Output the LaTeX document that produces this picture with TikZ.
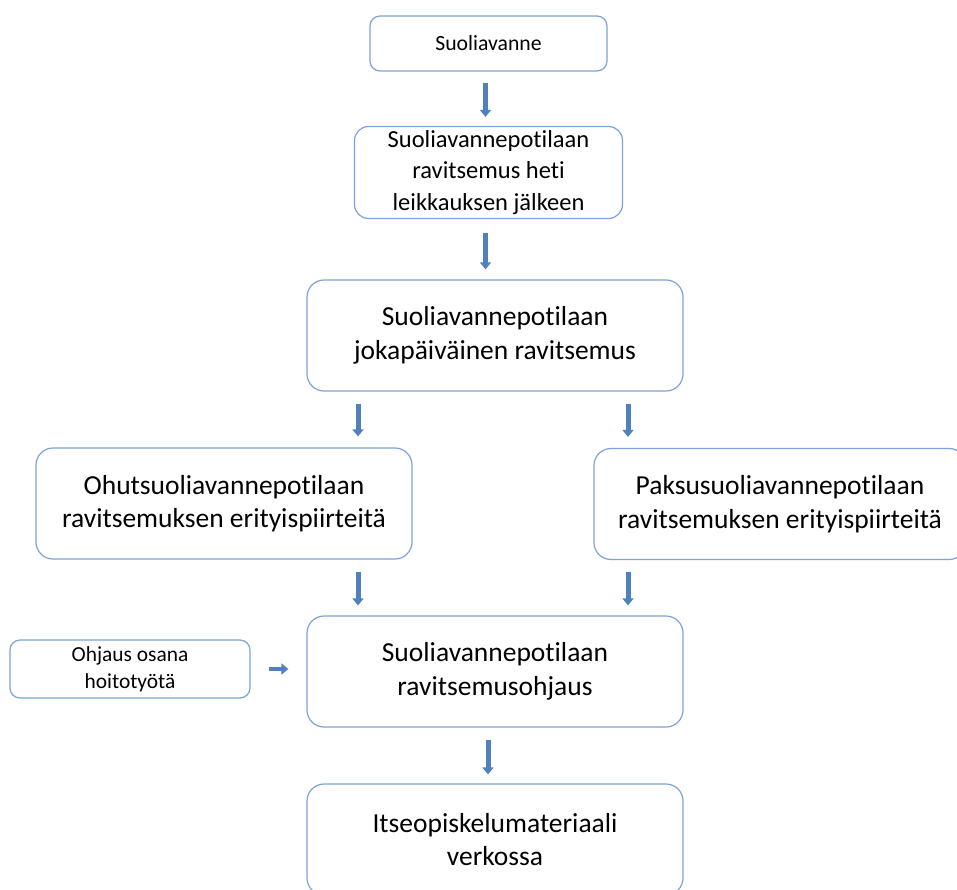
\documentclass[tikz,border=0pt]{standalone}
\usepackage{fontspec}
\setmainfont{Carlito}[Ligatures={NoCommon}]
\usetikzlibrary{arrows.meta}
\definecolor{boxline}{HTML}{7BA3D8}
\definecolor{arrowfill}{HTML}{4F81BD}
\begin{document}
\begin{tikzpicture}[x=1pt,y=-1pt,
  box/.style={draw=boxline, line width=1.2pt, fill=white, rounded corners=17pt,
    align=center, inner sep=0pt, text=black, minimum width=376pt, minimum height=111pt,
    font=\fontsize{27.5}{33.5}\selectfont},
  blk/.style={draw=arrowfill, line width=5pt,
    -{Triangle[width=11pt,length=7pt]}}
]
\useasboundingbox (0,0) rectangle (957,890);

\node[box, minimum width=237pt, minimum height=55pt, rounded corners=10pt,
  font=\fontsize{21.7}{26}\selectfont] (b1) at (488.5,43.5) {Suoliavanne};
\node[box, minimum width=268pt, minimum height=92pt, rounded corners=14pt,
  font=\fontsize{24.5}{31.5}\selectfont] (b2) at (488.5,172.5)
  {Suoliavannepotilaan\\ravitsemus heti\\leikkauksen jälkeen};
\node[box] (b3) at (495,335.5) {Suoliavannepotilaan\\jokapäiväinen ravitsemus};
\node[box] (b4) at (224,503.5) {Ohutsuoliavannepotilaan\\ravitsemuksen erityispiirteitä};
\node[box, minimum width=372pt] (b5) at (780,504) {Paksusuoliavannepotilaan\\ravitsemuksen erityispiirteitä};
\node[box] (b6) at (495,671.5) {Suoliavannepotilaan\\ravitsemusohjaus};
\node[box, minimum width=240pt, minimum height=58pt, rounded corners=10pt,
  font=\fontsize{21.4}{27}\selectfont] (sm) at (130,669) {Ohjaus osana\\hoitotyötä};
\node[box] (b8) at (495,839.5) {Itseopiskelumateriaali\\verkossa};

\draw[blk, shorten <=11pt, shorten >=9pt] ([xshift=-3pt]b1.south) -- ([xshift=-3pt]b2.north);
\draw[blk, shorten <=14pt, shorten >=10pt] ([xshift=-3pt]b2.south) -- ([xshift=-3pt]b2.south |- b3.north);
\draw[blk, shorten <=12pt, shorten >=11pt] ([xshift=-137pt]b3.south) -- ([xshift=-137pt]b3.south |- b4.north);
\draw[blk, shorten <=12pt, shorten >=11pt] ([xshift=133pt]b3.south) -- ([xshift=133pt]b3.south |- b5.north);
\draw[blk, shorten <=12pt, shorten >=10pt] ([xshift=-137pt]b6.north |- b4.south) -- ([xshift=-137pt]b6.north);
\draw[blk, shorten <=12pt, shorten >=10pt] ([xshift=133pt]b6.north |- b5.south) -- ([xshift=133pt]b6.north);
\draw[blk, line width=4pt, shorten <=18pt, shorten >=18pt] (sm.east) -- (sm.east -| b6.west);
\draw[blk, shorten <=12pt, shorten >=9pt] ([xshift=-7pt]b6.south) -- ([xshift=-7pt]b8.north);
\end{tikzpicture}
\end{document}
